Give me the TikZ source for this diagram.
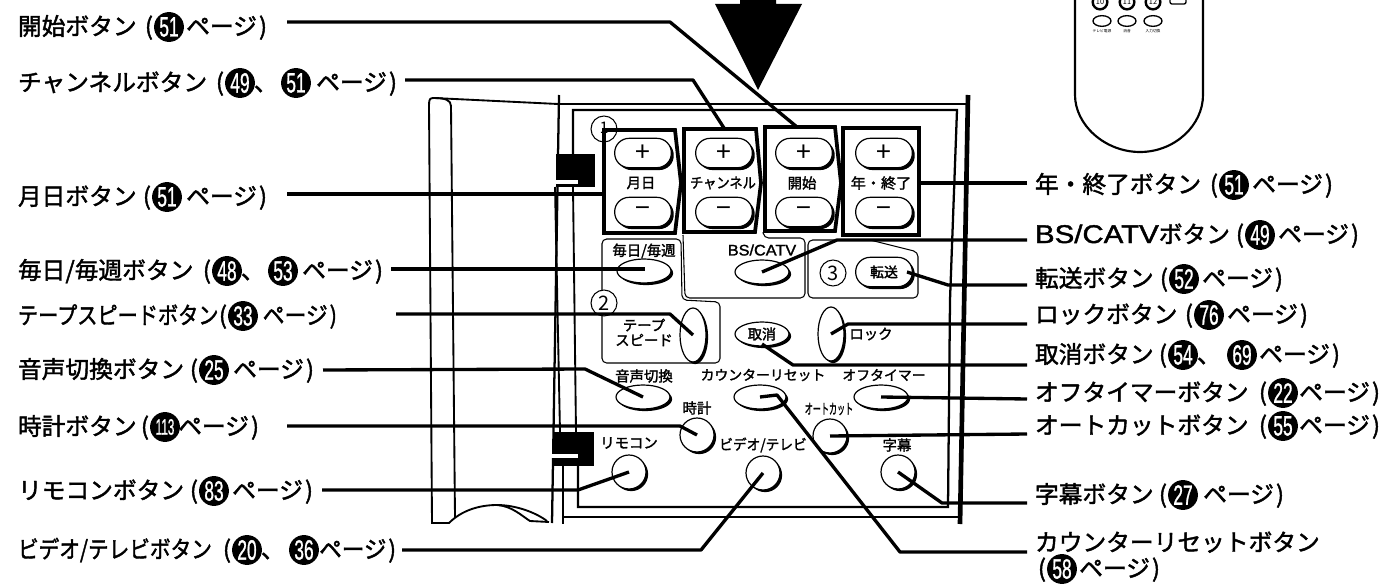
\documentclass[tikz,border=0pt]{standalone}
\usepackage{fontspec}
\usepackage{graphicx}
\usetikzlibrary{shapes.geometric,shadows}
\setmainfont{Noto Sans CJK JP}[RawFeature={embolden=1.8}]
\newfontfamily\jpb{Noto Sans CJK JP}[RawFeature={embolden=2.2}]
\newfontfamily\jpl{Noto Sans CJK JP}
\newfontfamily\numf{Liberation Sans}[RawFeature={embolden=1.2}]
\newfontfamily\latinf{Liberation Sans}[RawFeature={embolden=1.5}]
\newcommand{\dg}[1]{\ifnum#1>99 \scalebox{.42}[.8]{#1}\else\scalebox{.62}[1]{#1}\fi}
\newcommand{\lbstart}[6]{%
  \node[lab] (#1) at (#2,#3) {#4};
  \node[lab,anchor=base east] (#1p) at (#5-16,#3) {(};
  \node[numc] (#1n) at (#5,#3-8) {\dg{#6}};}
\newcommand{\lbnext}[5]{%
  \node[lab] (#1c) at (#5+14,#3) {、};
  \node[numc] (#1m) at (#2,#3-8) {\dg{#4}};}
\newcommand{\lbstop}[4][1]{%
  \node[lab,anchor=base east] (#2s) at (#3,#4) {\scalebox{#1}[1]{ページ\kern1.5pt)}};}
\tikzset{
  every node/.style={inner sep=0pt,outer sep=0pt},
  lab/.style={anchor=base west,font=\fontsize{17.8}{20}\selectfont},
  numc/.style={shape=circle,fill=black,text=white,minimum size=22.4pt,font=\fontsize{21}{21}\selectfont\numf},
  lead/.style={line width=2.5pt,line join=round},
  heavy/.style={line width=2.8pt,line join=miter},
  wall/.style={line width=1.4pt},
  fine/.style={line width=.8pt,rounded corners=3.5pt},
  capt/.style={font=\fontsize{10.8}{12}\selectfont},
  elbtn/.style 2 args={shape=ellipse,draw,line width=.9pt,fill=white,minimum width=#1*1.5pt,minimum height=#2*1.5pt,general shadow={shadow xshift=1.6pt,shadow yshift=-1.6pt,fill=black}},
  pill/.style={shape=rectangle,rounded corners=10.8pt,draw,line width=.9pt,fill=white,minimum width=42.5pt,minimum height=22pt,general shadow={shadow xshift=1.8pt,shadow yshift=-1.8pt,fill=black}},
  ring/.style={shape=circle,draw,line width=.8pt,fill=white,minimum size=19.5pt,font=\fontsize{15}{15}\selectfont\jpl},
  rem/.style={shape=ellipse,draw,line width=1pt,minimum width=13.5pt,minimum height=8pt},
  remc/.style={shape=circle,draw,line width=1.8pt,minimum size=11pt,font=\fontsize{5.5}{6}\selectfont\jpl},
  tiny/.style={font=\fontsize{2.8}{3}\selectfont\jpl}
}
\begin{document}
\begin{tikzpicture}[x=.75pt,y=-.75pt]
\clip (0,0) rectangle (1385,585);
\fill[white] (0,0) rectangle (1385,585);

% large arrow
\fill[black] (740,-2) -- (776,-2) -- (776,4) -- (802,4) -- (758,90) -- (715,4) -- (740,4) -- cycle;

% remote control
\draw[line width=1.6pt] (1075,-5) -- (1075,95) .. controls (1075,125) and (1105,152) .. (1140,152) .. controls (1175,152) and (1203,125) .. (1203,95) -- (1203,-5);
\node[remc] (r10) at (1100,2) {10};
\node[remc] (r11) at (1127,2) {11};
\node[remc] (r12) at (1153,2) {12};
\draw[line width=1pt,rounded corners=1.5pt] (1170,-5) rectangle (1186,4);
\node[rem] (e1) at (1102,21) {};
\node[rem] (e2) at (1127,21) {};
\node[rem] (e3) at (1153,21) {};
\node[tiny] (t1) at (1102,31) {テレビ電源};
\node[tiny] (t2) at (1127,31) {消音};
\node[tiny] (t3) at (1153,31) {入力切換};

% VCR cover and casing
\draw[wall] (429,105) .. controls (429,99) and (430,98) .. (434,98) -- (558,104);
\draw[wall] (434,98) .. controls (445,98) and (451,100) .. (451,106) -- (455,517);
\draw[wall] (429,105) -- (432,523) -- (449,523) .. controls (462,510) and (480,505) .. (497,505) .. controls (512,506) and (522,516) .. (530,521) -- (549,522);
\draw[wall] (497,505) .. controls (515,505) and (535,512) .. (547,521);
\draw[line width=1.7pt] (559,95) -- (552,523);
\draw[line width=1.4pt] (555,187) -- (560,432);
\draw[line width=1.4pt] (573,187) -- (576,432);
\draw[line width=1.4pt] (558,104) -- (968,104);
\draw[line width=1.7pt] (573,154) -- (573,110) -- (957,110) -- (950,300) -- (948,507) -- (578,507) -- (578,466);
\draw[line width=1.7pt] (563,466) -- (563,524);
\draw[line width=1.7pt] (563,517) -- (960,517);
\draw[line width=3.5pt] (968,95) -- (960,524);
% clips
\fill (556,154) rectangle (595,187);
\fill[white] (556,180) rectangle (578,184);
\fill (554,432) rectangle (594,466);
\fill[white] (551,454) rectangle (578,458);

% thin frames
\draw[fine] (602,290) -- (602,239) -- (681,239) -- (682,300) -- (720,302) -- (720,363) -- (602,363) -- (602,316);
\draw[fine] (763,232) -- (764,238) -- (805,238) -- (805,298) -- (685,298) -- (683,235);
\draw[fine] (865,240) -- (808,240) -- (808,298) -- (918,298) -- (918,252) -- (870,240);

% circled numerals
\draw[line width=.8pt] (604,129) circle (13);
\node[font=\fontsize{12}{12}\selectfont\jpl] (one) at (604,128) {1};
\node[ring] (two) at (604,303) {2};
\node[ring] (three) at (833,273) {3};

% keypad boxes
\draw[heavy] (604,130) -- (675,130) -- (681,183) -- (675,233) -- (604,233) -- cycle;
\draw[heavy] (684,129) -- (756,129) -- (761,183) -- (755,232) -- (684,232) -- cycle;
\draw[heavy] (765,127) -- (835,127) -- (841,183) -- (835,231) -- (765,231) -- cycle;
\draw[heavy] (843,128) rectangle (919,235);

% plus/minus buttons
\foreach \n/\x in {a/643,b/724,c/804,d/884}{
  \node[pill,font=\fontsize{20}{20}\selectfont\jpl] (\n p) at (\x,153) {+};
  \node[pill,font=\fontsize{20}{20}\selectfont\jpl] (\n m) at (\x,212) {−};
}
\node[capt] (ca) at (641,183) {月日};
\node[capt] (cb) at (723,183) {\scalebox{.92}[1]{チャンネル}};
\node[capt] (cc) at (802,183) {開始};
\node[capt] (cd) at (881,183) {\scalebox{1.05}[1]{年・終了}};

% middle buttons
\node[capt] (c1) at (644,251) {毎日/毎週};
\node[elbtn={27}{12}] (b1) at (644,271) {};
\node[capt,font=\fontsize{11.5}{12}\selectfont\latinf] (c2) at (762,250) {\scalebox{1.06}[1]{BS/CATV}};
\node[elbtn={27}{12}] (b2) at (762,272) {};
\node[pill,font=\fontsize{10.4}{12}\selectfont\jpb] (b3) at (884,272) {転送};
\node[capt] (c4a) at (644,325) {テープ};
\node[capt] (c4b) at (644,340) {スピード};
\node[elbtn={13}{27}] (b4) at (693,335) {};
\node[elbtn={27}{12},font=\fontsize{10.6}{12}\selectfont\jpb] (b5) at (762,334) {取消};
\node[elbtn={13}{27}] (b6) at (831,334) {};
\node[capt] (c6) at (871,334) {ロック};

\node[capt] (c7) at (644,376) {音声切換};
\node[elbtn={27}{12}] (b7) at (643,397) {};
\node[capt,font=\fontsize{10.4}{12}\selectfont] (c8) at (763,375) {カウンターリセット};
\node[elbtn={26}{12}] (b8) at (760,397) {};
\node[capt,font=\fontsize{10.4}{12}\selectfont] (c9) at (884,375) {オフタイマー};
\node[elbtn={27}{12}] (b9) at (881,397) {};

\node[capt] (c10) at (697,408) {時計};
\node[elbtn={17}{17}] (b10) at (697,435) {};
\node[capt] (c11) at (829,409) {\scalebox{.56}[1]{オートカット}};
\node[elbtn={17}{17}] (b11) at (830,436) {};
\node[capt] (c12) at (629,443) {リモコン};
\node[elbtn={17}{17}] (b12) at (629,472) {};
\node[capt] (c13) at (763,445) {\scalebox{.95}[1]{ビデオ/テレビ}};
\node[elbtn={17}{17}] (b13) at (763,473) {};
\node[capt] (c14) at (897,445) {字幕};
\node[elbtn={17}{17}] (b14) at (898,472) {};

% left labels
\lbstart{l1}{18}{35}{開始ボタン}{169}{51}\lbstop{l1}{267}{35}
\lbstart{l2}{18}{91}{チャンネルボタン}{240}{49}\lbnext{l2}{296}{91}{51}{240}\lbstop{l2}{397}{91}
\lbstart{l3}{18}{205}{月日ボタン}{167}{51}\lbstop{l3}{267}{205}
\lbstart{l4}{18}{279}{毎日/毎週ボタン}{227}{48}\lbnext{l4}{283}{279}{53}{227}\lbstop{l4}{383}{279}
\lbstart{l5}{18}{324}{\scalebox{.85}[1]{テープスピードボタン}}{243}{33}\lbstop[.92]{l5}{337}{324}
\lbstart{l6}{18}{378}{音声切換ボタン}{214}{25}\lbstop{l6}{314}{378}
\lbstart{l7}{18}{435}{時計ボタン}{165}{113}\lbstop{l7}{259}{435}
\lbstart{l8}{18}{499}{リモコンボタン}{214}{83}\lbstop{l8}{313}{499}
\lbstart{l9}{18}{558}{\scalebox{.87}[1]{ビデオ/テレビボタン}}{247}{20}\lbnext{l9}{304}{558}{36}{247}\lbstop[.95]{l9}{396}{558}
% right labels
\lbstart{r1}{1035}{193}{年・終了ボタン}{1234}{51}\lbstop{r1}{1333}{193}
\lbstart{r2}{1035}{243}{{\scalebox{1.15}[1]{\fontsize{19.2}{20}\selectfont\latinf BS/CATV}}ボタン}{1260}{49}\lbstop{r2}{1359}{243}
\lbstart{r3}{1035}{287}{転送ボタン}{1184}{52}\lbstop{r3}{1283}{287}
\lbstart{r4}{1035}{323}{ロックボタン}{1209}{76}\lbstop{r4}{1308}{323}
\lbstart{r5}{1035}{363}{取消ボタン}{1183}{54}\lbnext{r5}{1242}{363}{69}{1183}\lbstop{r5}{1340}{363}
\lbstart{r6}{1035}{401}{オフタイマーボタン}{1283}{22}\lbstop{r6}{1380}{401}
\lbstart{r7}{1035}{434}{オートカットボタン}{1283}{55}\lbstop{r7}{1380}{434}
\lbstart{r8}{1035}{503}{字幕ボタン}{1183}{27}\lbstop{r8}{1284}{503}
\node[lab] (r9) at (1035,551) {カウンターリセットボタン};
\node[lab,anchor=base east] (r9p) at (1046,577) {(};
\node[numc] (r9n) at (1062,569) {\dg{58}};
\lbstop{r9}{1160}{577}

% leader end points
\coordinate (s1) at (287,22);   \coordinate (e-start) at (797,127);
\coordinate (s2) at (405,80);   \coordinate (e-chan) at (724,128);
\coordinate (s3) at (287,194);  \coordinate (e-date) at (604,194);
\coordinate (s4) at (391,269);  \coordinate (e-week) at (645,269);
\coordinate (s5) at (396,314);
\coordinate (s6) at (323,370);
\coordinate (s7) at (287,426);
\coordinate (s8) at (322,490);
\coordinate (s9) at (402,550);
\coordinate (q1) at (1027,183); \coordinate (e-year) at (920,183);
\coordinate (q2) at (1027,240);
\coordinate (q3) at (1027,285); \coordinate (e-send) at (907,272);
\coordinate (q4) at (1027,324);
\coordinate (q5) at (1027,365); \coordinate (e-cancel) at (762,344);
\coordinate (q6) at (1027,399);
\coordinate (q7) at (1027,434);
\coordinate (q8) at (1027,503);
\coordinate (q9) at (1027,552);

% leaders
\draw[lead] (s1) -- (670,22) -- (e-start);
\draw[lead] (s2) -- (693,80) -- (e-chan);
\draw[lead] (s3) -- (e-date);
\draw[lead] (s4) -- (e-week);
\draw[lead] (s5) -- (670,314) -- (b4.center);
\draw[lead] (s6) -- (585,369) -- (b7.center);
\draw[lead] (s7) -- (680,426) -- (b10.center);
\draw[lead] (s8) -- (578,490) -- (b12.center);
\draw[lead] (s9) -- (701,550) -- (b13.center);
\draw[lead] (q1) -- (e-year);
\draw[lead] (q2) -- (837,240) -- (b2.center);
\draw[lead] (q3) -- (948,285) -- (e-send);
\draw[lead] (q4) -- (848,324) -- (b6.center);
\draw[lead] (q5) -- (793,365) -- (e-cancel);
\draw[lead] (q6) -- (b9.center);
\draw[lead] (q7) -- (b11.center);
\draw[lead] (q8) -- (942,503) -- (b14.center);
\draw[lead] (q9) -- (900,552) -- (777,395) -- (b8.center);
\end{tikzpicture}
\end{document}
